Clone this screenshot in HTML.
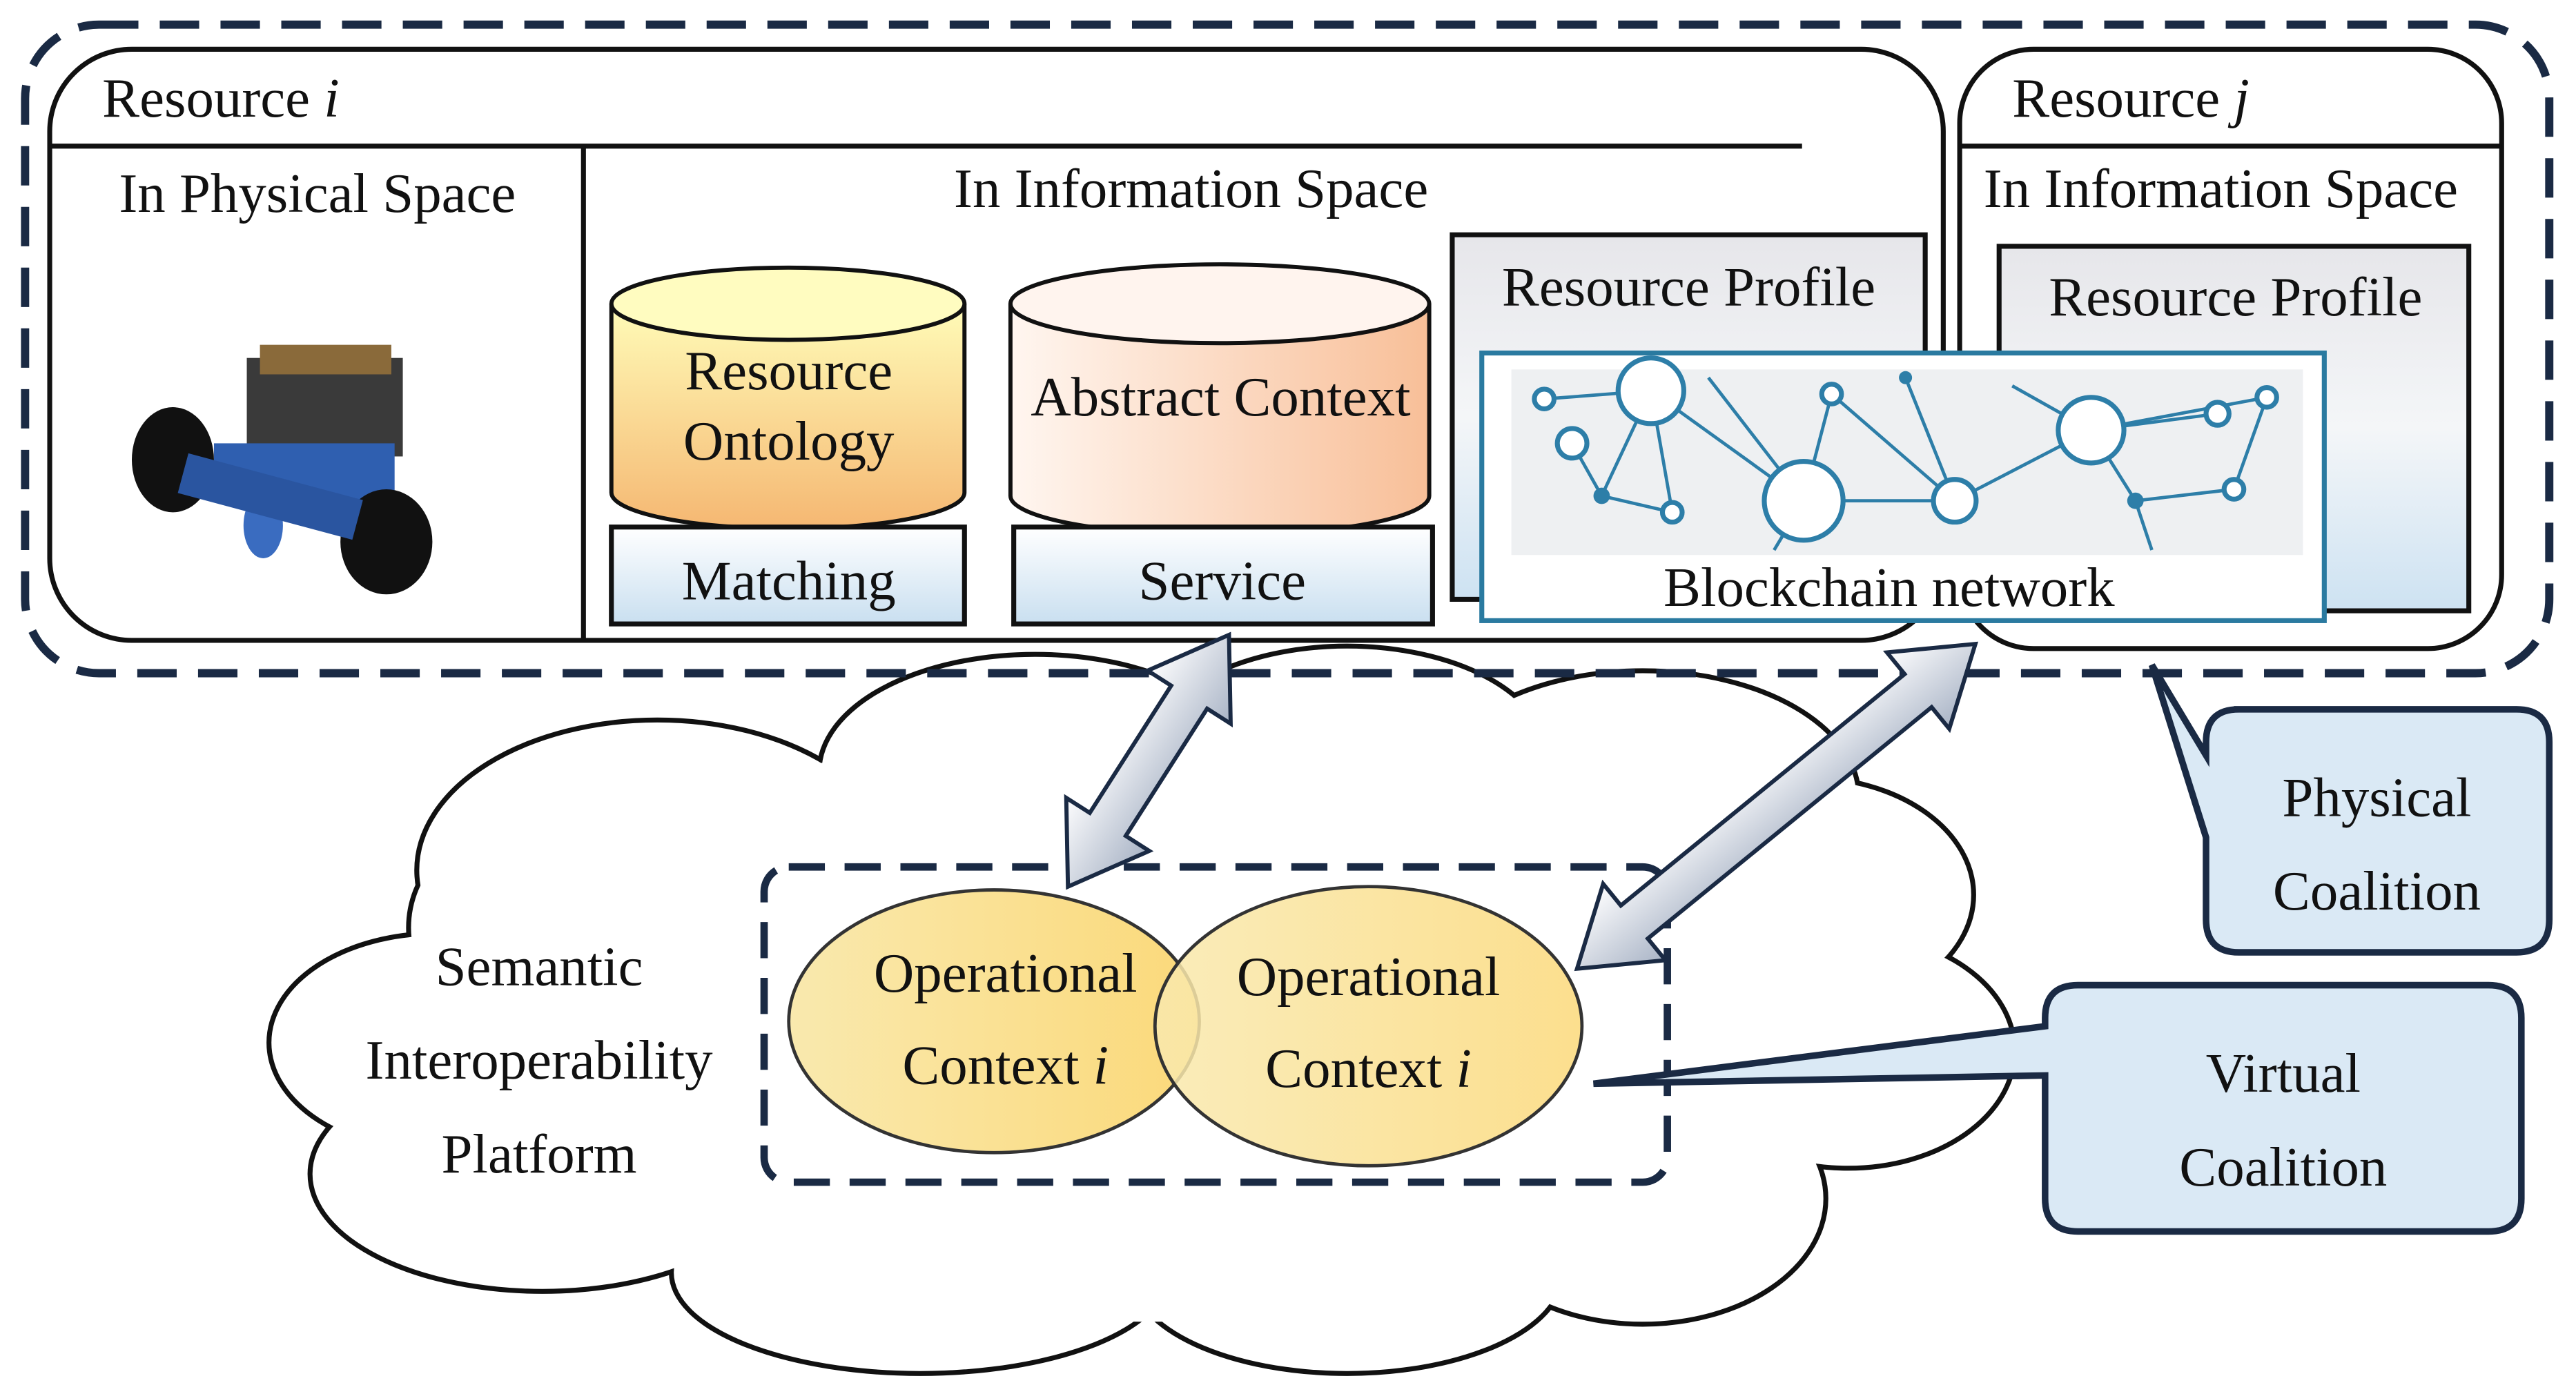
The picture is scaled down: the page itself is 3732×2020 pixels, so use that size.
<!DOCTYPE html>
<html><head><meta charset="utf-8"><style>
html,body{margin:0;padding:0;background:#fff;}
svg{display:block;}
text{font-family:"Liberation Serif",serif;font-size:34px;fill:#111;}
</style></head><body>
<svg width="3732" height="2020" viewBox="0 0 1568 849" xmlns="http://www.w3.org/2000/svg">
<defs>
<linearGradient id="gy" x1="0" y1="0" x2="0" y2="1"><stop offset="0" stop-color="#fffcb8"/><stop offset="1" stop-color="#f5b772"/></linearGradient>
<linearGradient id="gp" x1="0" y1="0" x2="1" y2="0"><stop offset="0" stop-color="#fff6f0"/><stop offset="1" stop-color="#f8bf98"/></linearGradient>
<linearGradient id="gb" x1="0" y1="0" x2="0" y2="1"><stop offset="0" stop-color="#ffffff"/><stop offset="1" stop-color="#c9dff0"/></linearGradient>
<linearGradient id="gr" x1="0" y1="0" x2="0" y2="1"><stop offset="0" stop-color="#e6e6ea"/><stop offset="0.5" stop-color="#f4f6f8"/><stop offset="1" stop-color="#cde2f2"/></linearGradient>
<linearGradient id="go" x1="0" y1="0" x2="1" y2="0"><stop offset="0" stop-color="#f9e9ae"/><stop offset="1" stop-color="#fbd97a"/></linearGradient>
<linearGradient id="ga" x1="0" y1="0" x2="0" y2="1"><stop offset="0" stop-color="#fdfdfe"/><stop offset="1" stop-color="#a9b4c6"/></linearGradient>
</defs>

<g stroke="#111" stroke-width="6" fill="#fff">
<ellipse cx="400" cy="530" rx="145" ry="90"/><ellipse cx="630" cy="470" rx="130" ry="70"/>
<ellipse cx="820" cy="460" rx="120" ry="65"/><ellipse cx="1000" cy="485" rx="130" ry="75"/>
<ellipse cx="1100" cy="545" rx="100" ry="70"/><ellipse cx="1125" cy="640" rx="100" ry="70"/>
<ellipse cx="1000" cy="730" rx="110" ry="75"/><ellipse cx="820" cy="775" rx="130" ry="60"/>
<ellipse cx="560" cy="775" rx="150" ry="60"/><ellipse cx="330" cy="715" rx="140" ry="70"/>
<ellipse cx="265" cy="635" rx="100" ry="65"/><ellipse cx="310" cy="565" rx="60" ry="60"/>
</g>
<g fill="#fff">
<ellipse cx="400" cy="530" rx="145" ry="90"/><ellipse cx="630" cy="470" rx="130" ry="70"/>
<ellipse cx="820" cy="460" rx="120" ry="65"/><ellipse cx="1000" cy="485" rx="130" ry="75"/>
<ellipse cx="1100" cy="545" rx="100" ry="70"/><ellipse cx="1125" cy="640" rx="100" ry="70"/>
<ellipse cx="1000" cy="730" rx="110" ry="75"/><ellipse cx="820" cy="775" rx="130" ry="60"/>
<ellipse cx="560" cy="775" rx="150" ry="60"/><ellipse cx="330" cy="715" rx="140" ry="70"/>
<ellipse cx="265" cy="635" rx="100" ry="65"/><ellipse cx="310" cy="565" rx="60" ry="60"/>
<ellipse cx="700" cy="625" rx="440" ry="180"/>
</g>
<text x="328" y="600" text-anchor="middle">Semantic</text>
<text x="328" y="657" text-anchor="middle">Interoperability</text>
<text x="328" y="714" text-anchor="middle">Platform</text>

<rect x="465" y="528" width="550" height="192" rx="15" fill="none" stroke="#1a2a44" stroke-width="4.5" stroke-dasharray="22 12"/>
<ellipse cx="605" cy="622" rx="125" ry="80" fill="url(#go)" stroke="#333" stroke-width="2"/>
<ellipse cx="833" cy="625" rx="130" ry="85" fill="url(#go)" stroke="#333" stroke-width="2" fill-opacity="0.85"/>
<text x="612" y="604" text-anchor="middle">Operational</text>
<text x="612" y="660" text-anchor="middle">Context <tspan font-style="italic">i</tspan></text>
<text x="833" y="606" text-anchor="middle">Operational</text>
<text x="833" y="662" text-anchor="middle">Context <tspan font-style="italic">i</tspan></text>

<rect x="15" y="15" width="1537" height="395" rx="45" fill="none" stroke="#1a2a44" stroke-width="5" stroke-dasharray="24 13"/>

<rect x="30" y="30" width="1153" height="360" rx="50" fill="#fff" stroke="#111" stroke-width="3"/>
<line x1="30" y1="89" x2="1097" y2="89" stroke="#111" stroke-width="3"/>
<line x1="355" y1="89" x2="355" y2="390" stroke="#111" stroke-width="3"/>
<text x="62" y="71">Resource <tspan font-style="italic">i</tspan></text>
<text x="193" y="129" text-anchor="middle">In Physical Space</text>
<text x="725" y="126" text-anchor="middle">In Information Space</text>

<g>
<rect x="150" y="218" width="95" height="60" fill="#3a3a3a"/>
<rect x="158" y="210" width="80" height="18" fill="#8a6a3a"/>
<rect x="130" y="270" width="110" height="35" fill="#2f5fb0"/>
<ellipse cx="105" cy="280" rx="25" ry="32" fill="#111"/>
<ellipse cx="235" cy="330" rx="28" ry="32" fill="#111"/>
<ellipse cx="160" cy="320" rx="12" ry="20" fill="#3a6cc0"/>
<rect x="110" y="290" width="110" height="25" fill="#2a55a0" transform="rotate(15 165 300)"/>
</g>

<path d="M372,185 L372,300 A107.5,22 0 0 0 587,300 L587,185" fill="url(#gy)" stroke="#111" stroke-width="2.5"/>
<ellipse cx="479.5" cy="185" rx="107.5" ry="22" fill="#fffcc0" stroke="#111" stroke-width="2.5"/>
<text x="480" y="237" text-anchor="middle">Resource</text>
<text x="480" y="280" text-anchor="middle">Ontology</text>
<path d="M615,185 L615,302 A127.5,24 0 0 0 870,302 L870,185" fill="url(#gp)" stroke="#111" stroke-width="2.5"/>
<ellipse cx="742.5" cy="185" rx="127.5" ry="24" fill="#fff4ee" stroke="#111" stroke-width="2.5"/>
<text x="743" y="253" text-anchor="middle">Abstract Context</text>

<rect x="372" y="321" width="215" height="59" fill="url(#gb)" stroke="#111" stroke-width="3"/>
<text x="480" y="365" text-anchor="middle">Matching</text>
<rect x="617" y="321" width="255" height="59" fill="url(#gb)" stroke="#111" stroke-width="3"/>
<text x="744" y="365" text-anchor="middle">Service</text>

<rect x="884" y="143" width="288" height="222" fill="url(#gr)" stroke="#111" stroke-width="3"/>
<text x="1028" y="186" text-anchor="middle">Resource Profile</text>

<rect x="1193" y="30" width="330" height="365" rx="45" fill="#fff" stroke="#111" stroke-width="3"/>
<line x1="1193" y1="89" x2="1523" y2="89" stroke="#111" stroke-width="3"/>
<text x="1225" y="71">Resource <tspan font-style="italic">j</tspan></text>
<text x="1352" y="126" text-anchor="middle">In Information Space</text>
<rect x="1217" y="150" width="286" height="222" fill="url(#gr)" stroke="#111" stroke-width="3"/>
<text x="1361" y="192" text-anchor="middle">Resource Profile</text>

<rect x="902" y="215" width="513" height="163" fill="#fff" stroke="#2a7aa0" stroke-width="3"/>
<rect x="920" y="225" width="482" height="113" fill="#eef0f2"/>
<g stroke="#2d7ea8" stroke-width="2" fill="none">
<path d="M940,243 L1005,238 L1098,305 L1190,305 L1273,262 L1380,242 M1005,238 L1018,312 L975,302 L957,270 M1098,305 L1115,240 L1190,305 M1098,305 L1040,230 M1273,262 L1300,305 L1360,298 L1380,242 M1273,262 L1350,252 M1190,305 L1160,230 M1300,305 L1310,335 M1098,305 L1080,335 M1273,262 L1225,235 M1005,238 L975,302"/>
</g>
<g fill="#fff" stroke="#2d7ea8" stroke-width="3">
<circle cx="1005" cy="238" r="20"/><circle cx="1098" cy="305" r="24"/><circle cx="1273" cy="262" r="20"/>
<circle cx="1190" cy="305" r="13"/><circle cx="957" cy="270" r="9"/><circle cx="1115" cy="240" r="6"/>
<circle cx="1350" cy="252" r="7"/><circle cx="1360" cy="298" r="6"/><circle cx="1380" cy="242" r="6"/><circle cx="940" cy="243" r="6"/><circle cx="1018" cy="312" r="6"/>
</g>
<g fill="#2d7ea8"><circle cx="975" cy="302" r="5"/><circle cx="1300" cy="305" r="5"/><circle cx="1160" cy="230" r="4"/></g>
<text x="1150" y="369" text-anchor="middle">Blockchain network</text>

<g fill="url(#ga)" stroke="#1a2a44" stroke-width="2.5">
<polygon transform="translate(650,540) rotate(-57.4)" points="0,0 45,-30 45,-13 137,-13 137,-30 182,0 137,30 137,13 45,13 45,30"/>
<polygon transform="translate(960,590) rotate(-39.2)" points="0,0 45,-30 45,-13 268,-13 268,-30 313,0 268,30 268,13 45,13 45,30"/>
</g>

<path d="M1360,432 L1532,432 Q1552,432 1552,452 L1552,560 Q1552,580 1532,580 L1363,580 Q1343,580 1343,560 L1343,510 L1310,405 L1343,460 L1343,452 Q1343,432 1363,432 Z" fill="#dae9f5" stroke="#1a2a44" stroke-width="4"/>
<text x="1447" y="497" text-anchor="middle">Physical</text>
<text x="1447" y="554" text-anchor="middle">Coalition</text>
<path d="M1265,600 L1515,600 Q1535,600 1535,620 L1535,730 Q1535,750 1515,750 L1265,750 Q1245,750 1245,730 L1245,655 L970,660 L1245,625 L1245,620 Q1245,600 1265,600 Z" fill="#dae9f5" stroke="#1a2a44" stroke-width="4"/>
<text x="1390" y="665" text-anchor="middle">Virtual</text>
<text x="1390" y="722" text-anchor="middle">Coalition</text>
</svg>
</body></html>
